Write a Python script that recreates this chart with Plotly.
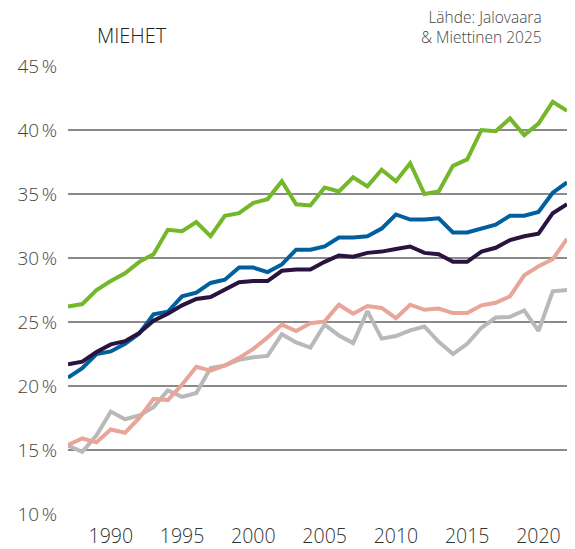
import plotly.graph_objects as go

years = list(range(1987, 2023))

green = [26.2, 26.4, 27.5, 28.2, 28.8, 29.7, 30.3, 32.2, 32.1, 32.8,
         31.7, 33.3, 33.5, 34.3, 34.6, 36.0, 34.2, 34.1, 35.5, 35.2,
         36.3, 35.6, 36.9, 36.0, 37.4, 35.0, 35.2, 37.2, 37.7, 40.0,
         39.9, 40.9, 39.6, 40.5, 42.2, 41.5]

blue = [20.65, 21.4, 22.5, 22.7, 23.3, 24.1, 25.6, 25.8, 27.0, 27.3,
        28.05, 28.3, 29.25, 29.25, 28.9, 29.5, 30.65, 30.65, 30.9, 31.6,
        31.6, 31.7, 32.3, 33.4, 33.0, 33.0, 33.1, 32.0, 32.0, 32.3,
        32.6, 33.3, 33.3, 33.6, 35.1, 35.9]

purple = [21.7, 21.9, 22.65, 23.25, 23.5, 24.15, 25.1, 25.65, 26.3, 26.8,
          26.95, 27.5, 28.1, 28.2, 28.2, 29.0, 29.1, 29.1, 29.7, 30.2,
          30.1, 30.4, 30.5, 30.7, 30.9, 30.4, 30.3, 29.7, 29.7, 30.5,
          30.8, 31.4, 31.7, 31.9, 33.5, 34.2]

pink = [15.4, 15.9, 15.6, 16.6, 16.35, 17.5, 19.0, 18.9, 20.1, 21.5,
        21.2, 21.6, 22.2, 22.9, 23.8, 24.8, 24.3, 24.9, 25.05, 26.35,
        25.65, 26.25, 26.1, 25.3, 26.35, 25.95, 26.05, 25.7, 25.7, 26.3,
        26.5, 27.0, 28.65, 29.35, 29.9, 31.5]

grey = [15.35, 14.85, 16.15, 18.0, 17.4, 17.7, 18.35, 19.65, 19.15, 19.45,
        21.4, 21.6, 22.05, 22.25, 22.35, 24.05, 23.4, 23.0, 24.8, 23.95,
        23.35, 25.85, 23.7, 23.9, 24.35, 24.65, 23.45, 22.5, 23.3, 24.55,
        25.35, 25.4, 25.9, 24.3, 27.4, 27.5]

y_ticks = [10, 15, 20, 25, 30, 35, 40, 45]
y_tick_labels = [f"{v}\u202f%" for v in y_ticks]
x_ticks = [1990, 1995, 2000, 2005, 2010, 2015, 2020]

series = [
    (grey, "#b9b9b9"),
    (pink, "#e8a598"),
    (blue, "#00609f"),
    (purple, "#2a143f"),
    (green, "#74b72a"),
]

fig = go.Figure()
for vals, col in series:
    fig.add_trace(go.Scatter(x=years, y=vals, mode="lines",
                             line=dict(color=col, width=4),
                             showlegend=False, hoverinfo="skip"))

font_family = "Open Sans, Lato, sans-serif"

fig.update_layout(
    width=575, height=549,
    margin=dict(l=68, r=8, t=66, b=35),
    paper_bgcolor="white", plot_bgcolor="white",
    font=dict(family=font_family, color="#444444", size=20, weight=300),
    xaxis=dict(range=[1987, 2022], tickvals=x_ticks, showgrid=False,
               zeroline=False, showline=False, ticks="", automargin=False,
               ticklabelstandoff=8,
               tickfont=dict(size=19.5, color="#333333", family=font_family, weight=300)),
    yaxis=dict(range=[10, 45], tickvals=y_ticks, ticktext=y_tick_labels,
               showgrid=True, gridcolor="#8a8a8a", gridwidth=1.8,
               zeroline=False, showline=False, ticks="", automargin=False,
               ticklabelstandoff=10,
               tickfont=dict(size=19, color="#444444", family=font_family, weight=300)),
    annotations=[
        dict(text="MIEHET", xref="paper", yref="paper", x=(95 - 68) / 499,
             y=(513.7 - 35.5) / 448, xanchor="left", yanchor="middle",
             showarrow=False,
             font=dict(size=20, color="#222222", family=font_family, weight=300)),
        dict(text="Lähde: Jalovaara<br>& Miettinen 2025", xref="paper", yref="paper",
             x=(544 - 68) / 499, y=(513.7 - 26.5) / 448, xanchor="right",
             yanchor="middle", align="right", showarrow=False,
             font=dict(size=15.5, color="#444444", family=font_family, weight=300)),
    ],
)

fig.write_html("out.html", config={"displayModeBar": False},
               post_script="document.body.style.margin='0';document.body.style.overflow='hidden';")
